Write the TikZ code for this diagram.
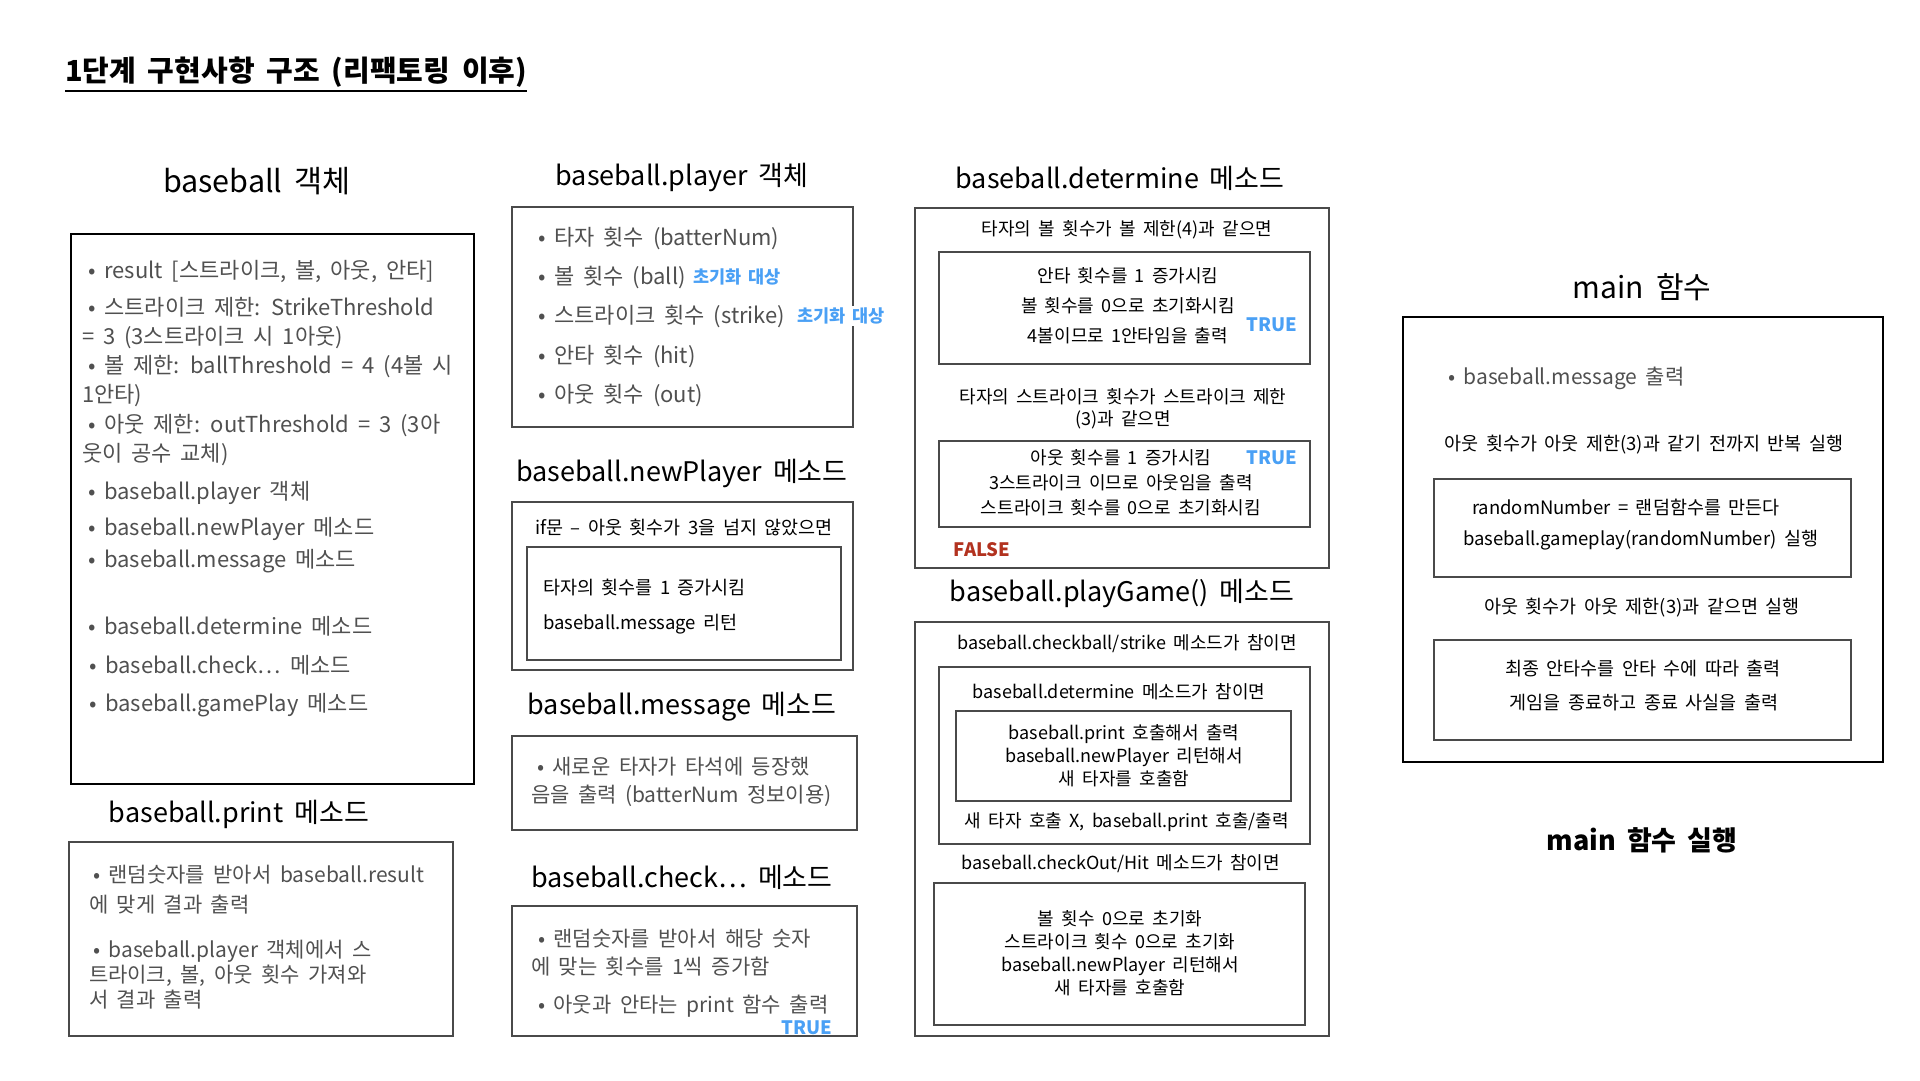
\documentclass[tikz,border=0pt]{standalone}
\usepackage{fontspec}
\setmainfont{Noto Sans CJK KR}[WordSpace=1.8]
\definecolor{txtgray}{HTML}{505050}
\definecolor{linegray}{HTML}{4A4A4A}
\definecolor{tblue}{HTML}{4AA0F5}
\definecolor{fred}{HTML}{B2321F}
\newcommand{\fsz}[2]{\fontsize{#1}{#2}\selectfont}
\begin{document}
\begin{tikzpicture}[x=1pt,y=-1pt,
  every node/.style={inner sep=0pt, outer sep=0pt},
  hd/.style={font=\fsz{27}{30}, text=black},
  outerbox/.style={draw=black, line width=2.2pt, anchor=north west},
  innerbox/.style={draw=linegray, line width=1.3pt, anchor=north west},
  gtxt/.style={text=txtgray, anchor=west, align=left},
  ctxt/.style={text=black, align=center},
  tagblue/.style={font=\bfseries\fsz{18.5}{20}, text=tblue},
  tagred/.style={font=\bfseries\fsz{18.5}{20}, text=fred}
]
\useasboundingbox (0,0) rectangle (1920,1080);

% title
\node[anchor=west, font=\bfseries\fsz{29}{32}] (title) at (65,72) {1단계 구현사항 구조 (리팩토링 이후)};
\draw[line width=1.8pt] ([yshift=-4pt]title.south west) -- ([yshift=-4pt]title.south east);

% baseball object
\node[hd, font=\fsz{30.5}{34}] (objhd) at (257,181) {baseball 객체};
\node[outerbox, minimum width=403pt, minimum height=550pt] (objbox) at (71,234) {};
\begin{scope}[every node/.append style={gtxt, font=\fsz{22}{28.5}}]
\node (o1) at (88,271) {• result [스트라이크, 볼, 아웃, 안타]};
\node (o2) at (82,323) {\hspace*{6pt}• 스트라이크 제한: StrikeThreshold\\= 3 (3스트라이크 시 1아웃)};
\node (o3) at (82,381) {\hspace*{6pt}• 볼 제한: ballThreshold = 4 (4볼 시\\1안타)};
\node (o4) at (82,440) {\hspace*{6pt}• 아웃 제한: outThreshold = 3 (3아\\웃이 공수 교체)};
\node (o5) at (88,493) {• baseball.player 객체};
\node (o6) at (88,529) {• baseball.newPlayer 메소드};
\node (o7) at (88,561) {• baseball.message 메소드};
\node (o8) at (88,626) {• baseball.determine 메소드};
\node (o9) at (89,665) {• baseball.check… 메소드};
\node (o10) at (89,705) {• baseball.gamePlay 메소드};
\end{scope}

% print
\node[hd] (prhd) at (239,814) {baseball.print 메소드};
\node[innerbox, minimum width=384pt, minimum height=194pt] (prbox) at (69,842) {};
\node[gtxt, font=\fsz{21}{30}] (pr1) at (89,890) {\hspace*{4pt}• 랜덤숫자를 받아서 baseball.result\\에 맞게 결과 출력};
\node[gtxt, font=\fsz{21}{25}] (pr2) at (89,975) {\hspace*{4pt}• baseball.player 객체에서 스\\트라이크, 볼, 아웃 횟수 가져와\\서 결과 출력};

% player
\node[hd] (plhd) at (682,177) {baseball.player 객체};
\node[innerbox, minimum width=341pt, minimum height=220pt] (plbox) at (512,207) {};
\begin{scope}[every node/.append style={gtxt, font=\fsz{22}{25}}]
\node (p1) at (538,238) {• 타자 횟수 (batterNum)};
\node (p2) at (538,277) {• 볼 횟수 (ball)};
\node (p3) at (538,316) {• 스트라이크 횟수 (strike)};
\node (p4) at (538,356) {• 안타 횟수 (hit)};
\node (p5) at (538,395) {• 아웃 횟수 (out)};
\end{scope}
\node[tagblue, anchor=west, font=\bfseries\fsz{17.5}{20}] (pt1) at (693,277) {초기화 대상};
\node[tagblue, anchor=west, font=\bfseries\fsz{17.5}{20}, fill=white, inner ysep=2pt] (pt2) at (797,316) {초기화 대상};

% newPlayer
\node[hd] (nphd) at (682,473) {baseball.newPlayer 메소드};
\node[innerbox, minimum width=341pt, minimum height=168pt] (npbox) at (512,502) {};
\node[ctxt, font=\fsz{18.5}{22}] (npc) at (684,528) {if문 – 아웃 횟수가 3을 넘지 않았으면};
\node[innerbox, minimum width=314pt, minimum height=113pt] (npin) at (527,547) {};
\node[anchor=west, font=\fsz{18.5}{22}] (np1) at (543,588) {타자의 횟수를 1 증가시킴};
\node[anchor=west, font=\fsz{18.5}{22}] (np2) at (543,624) {baseball.message 리턴};

% message
\node[hd] (mshd) at (682,707) {baseball.message 메소드};
\node[innerbox, minimum width=345pt, minimum height=94pt] (msbox) at (512,736) {};
\node[gtxt, font=\fsz{21}{28}] (ms1) at (531,782) {\hspace*{6pt}• 새로운 타자가 타석에 등장했\\음을 출력 (batterNum 정보이용)};

% check
\node[hd] (ckhd) at (682,877) {baseball.check… 메소드};
\node[innerbox, minimum width=345pt, minimum height=130pt] (ckbox) at (512,906) {};
\node[gtxt, font=\fsz{21}{28}] (ck1) at (531,953) {\hspace*{7pt}• 랜덤숫자를 받아서 해당 숫자\\에 맞는 횟수를 1씩 증가함};
\node[gtxt, font=\fsz{21}{28}] (ck2) at (538,1006) {• 아웃과 안타는 print 함수 출력};
\node[tagblue] (cktrue) at (807,1028) {TRUE};

% determine
\node[hd] (dthd) at (1120,178) {baseball.determine 메소드};
\node[innerbox, minimum width=414pt, minimum height=360pt] (dtbox) at (915,208) {};
\node[ctxt, font=\fsz{18}{22}] (dtc1) at (1127,230) {타자의 볼 횟수가 볼 제한(4)과 같으면};
\node[innerbox, minimum width=371pt, minimum height=112pt] (dtin1) at (939,252) {};
\node[ctxt, font=\fsz{18}{30}] (dt1) at (1128,306) {안타 횟수를 1 증가시킴\\볼 횟수를 0으로 초기화시킴\\4볼이므로 1안타임을 출력};
\node[tagblue] (dtt1) at (1272,325) {TRUE};
\node[ctxt, font=\fsz{18}{22}] (dtc2) at (1123,409) {타자의 스트라이크 횟수가 스트라이크 제한\\(3)과 같으면};
\node[innerbox, minimum width=371pt, minimum height=86pt] (dtin2) at (939,441) {};
\node[ctxt, font=\fsz{18}{25}] (dt2) at (1121,483) {아웃 횟수를 1 증가시킴\\3스트라이크 이므로 아웃임을 출력\\스트라이크 횟수를 0으로 초기화시킴};
\node[tagblue] (dtt2) at (1272,458) {TRUE};
\node[tagred] (dtf) at (982,550) {FALSE};

% playGame
\node[hd] (pghd) at (1122,593) {baseball.playGame() 메소드};
\node[innerbox, minimum width=414pt, minimum height=414pt] (pgbox) at (915,622) {};
\node[ctxt, font=\fsz{18}{22}] (pgc1) at (1127,644) {baseball.checkball/strike 메소드가 참이면};
\node[innerbox, minimum width=371pt, minimum height=177pt] (pga) at (939,667) {};
\node[ctxt, font=\fsz{18}{22}] (pgc2) at (1119,692) {baseball.determine 메소드가 참이면};
\node[innerbox, minimum width=335pt, minimum height=90pt] (pga1) at (956,711) {};
\node[ctxt, font=\fsz{18}{23}] (pg1) at (1124,756) {baseball.print 호출해서 출력\\baseball.newPlayer 리턴해서\\새 타자를 호출함};
\node[ctxt, font=\fsz{18}{22}] (pg2) at (1127,822) {새 타자 호출 X, baseball.print 호출/출력};
\node[ctxt, font=\fsz{18}{22}] (pgc3) at (1121,864) {baseball.checkOut/Hit 메소드가 참이면};
\node[innerbox, minimum width=371pt, minimum height=142pt] (pgb) at (934,883) {};
\node[ctxt, font=\fsz{18}{23}] (pg3) at (1120,953) {볼 횟수 0으로 초기화\\스트라이크 횟수 0으로 초기화\\baseball.newPlayer 리턴해서\\새 타자를 호출함};

% main
\node[hd, font=\fsz{30}{34}] (mnhd) at (1642,287) {main 함수};
\node[outerbox, minimum width=480pt, minimum height=445pt] (mnbox) at (1403,317) {};
\node[gtxt, font=\fsz{21}{24}] (mn0) at (1448,378) {• baseball.message 출력};
\node[ctxt, font=\fsz{18.5}{22}] (mnc1) at (1644,445) {아웃 횟수가 아웃 제한(3)과 같기 전까지 반복 실행};
\node[innerbox, minimum width=417pt, minimum height=98pt] (mnm1) at (1434,479) {};
\node[anchor=west, font=\fsz{18.5}{22}] (mn1) at (1472,508) {randomNumber = 랜덤함수를 만든다};
\node[anchor=west, font=\fsz{18.5}{22}] (mn2) at (1463,540) {baseball.gameplay(randomNumber) 실행};
\node[ctxt, font=\fsz{18.5}{22}] (mnc2) at (1642,608) {아웃 횟수가 아웃 제한(3)과 같으면 실행};
\node[innerbox, minimum width=417pt, minimum height=100pt] (mnm2) at (1434,640) {};
\node[ctxt, font=\fsz{18.5}{22}] (mn3) at (1643,669) {최종 안타수를 안타 수에 따라 출력};
\node[ctxt, font=\fsz{18.5}{22}] (mn4) at (1644,703) {게임을 종료하고 종료 사실을 출력};

\node[font=\bfseries\fsz{27}{30}] (mnrun) at (1642,840) {main 함수 실행};
\end{tikzpicture}
\end{document}
